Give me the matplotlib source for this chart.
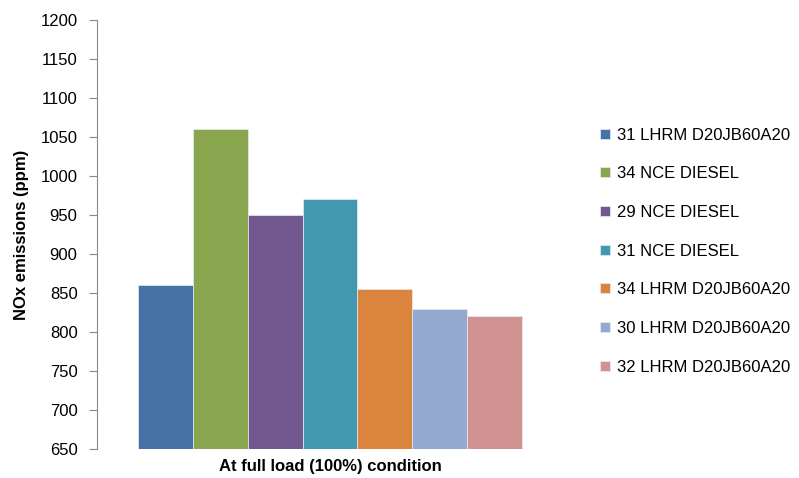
import numpy as np
import matplotlib
matplotlib.use("Agg")
import matplotlib.pyplot as plt

plt.rcParams["font.family"] = ["Liberation Sans", "DejaVu Sans"]

# data
category = "At full load (100%) condition"
series_names = [
    "31 LHRM D20JB60A20",
    "34 NCE DIESEL",
    "29 NCE DIESEL",
    "31 NCE DIESEL",
    "34 LHRM D20JB60A20",
    "30 LHRM D20JB60A20",
    "32 LHRM D20JB60A20",
]
nox_values = [860, 1060, 950, 970, 855, 830, 820]
colors = ["#4572A7", "#89A54E", "#71588F", "#4198AF", "#DB843D", "#93A9CF", "#D19392"]

fig = plt.figure(figsize=(7.99, 4.78), dpi=100)
ax = fig.add_axes([97 / 799, 1 - 449 / 478, 466 / 799, 429 / 478])

n = len(series_names)
offsets = np.arange(n) - (n - 1) / 2
for off, val, name, col in zip(offsets, nox_values, series_names, colors):
    ax.bar(off, val - 650, bottom=650, width=1.0, color=col,
           edgecolor="#e8ecf4", linewidth=0.5, label=name)

ax.set_xlim(-4.25, 4.25)
ax.set_ylim(650, 1200)
ax.set_yticks(np.arange(650, 1201, 50))
ax.tick_params(axis="y", labelsize=12, length=6, color="#888888", direction="out", pad=8)
ax.set_xticks([0])
ax.set_xticklabels([category], fontsize=12, fontweight="bold")
ax.tick_params(axis="x", length=0, pad=7)

for s in ["top", "right", "bottom"]:
    ax.spines[s].set_visible(False)
ax.spines["left"].set_color("#888888")

ax.set_ylabel("NOx emissions (ppm)", fontsize=12, fontweight="bold", labelpad=8)

fig.legend(loc="center left", bbox_to_anchor=(592 / 799, 1 - 251 / 478),
           frameon=False, fontsize=12, handlelength=0.55, handleheight=0.55,
           handletextpad=0.45, labelspacing=1.42, borderpad=0)

fig.savefig("out.png", dpi=100)
